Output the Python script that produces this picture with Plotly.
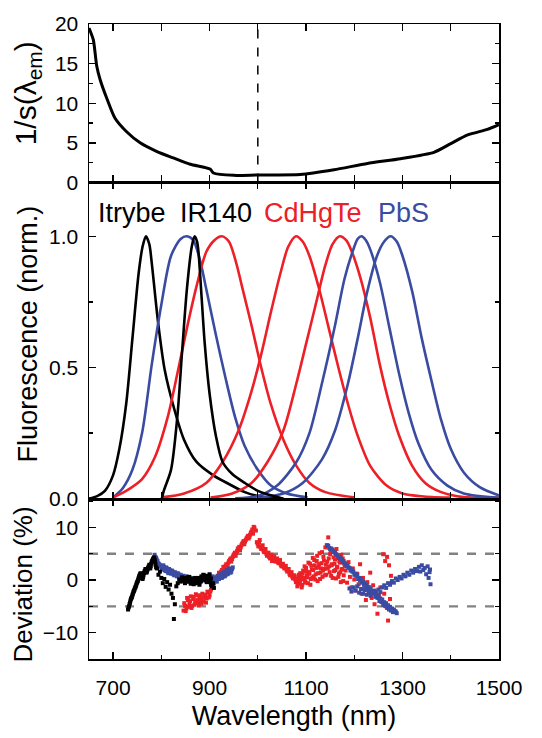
import plotly.graph_objects as go

# ---------------- data ----------------
# top panel: inverse spectral sensitivity
wl_sens = [650, 659, 666, 673, 687, 704, 728, 756, 791, 825, 860, 901, 908, 950, 1000, 1088, 1158, 1227, 1296, 1365, 1400, 1435, 1476, 1500]
inv_sens = [19.5, 18.0, 14.7, 13.0, 10.6, 8.1, 6.4, 5.0, 3.9, 3.1, 2.3, 1.7, 1.2, 0.9, 0.95, 1.0, 1.6, 2.4, 3.0, 3.8, 4.9, 6.0, 6.7, 7.3]

# middle panel: normalized fluorescence spectra
wl_itrybe = [650, 667, 683, 700, 713, 727, 740, 753, 761, 768, 775, 780, 793, 807, 827, 847, 873, 907, 940, 973, 1000, 1053]
fl_itrybe = [0.0, 0.01, 0.03, 0.09, 0.19, 0.36, 0.61, 0.86, 0.96, 1.0, 0.97, 0.9, 0.675, 0.49, 0.34, 0.225, 0.14, 0.09, 0.056, 0.025, 0.01, 0.0]

wl_ir140 = [801, 805, 820, 833, 843, 853, 863, 869, 874, 877, 883, 890, 900, 913, 927, 947, 973, 1000, 1027, 1053]
fl_ir140 = [0.0, 0.03, 0.11, 0.31, 0.56, 0.8, 0.96, 1.0, 0.98, 0.94, 0.78, 0.59, 0.4, 0.24, 0.14, 0.094, 0.06, 0.03, 0.013, 0.0]

wl_pbs1 = [700, 720, 740, 760, 780, 800, 820, 840, 853, 866, 880, 893, 913, 933, 953, 973, 1000, 1027, 1060, 1103]
fl_pbs1 = [0.005, 0.04, 0.11, 0.25, 0.51, 0.74, 0.925, 0.99, 1.0, 0.985, 0.91, 0.8, 0.625, 0.46, 0.31, 0.2, 0.11, 0.05, 0.02, 0.005]

wl_cdhgte1 = [700, 727, 760, 787, 813, 833, 853, 873, 893, 910, 925, 940, 955, 967, 987, 1007, 1027, 1053, 1080, 1107, 1140, 1200]
fl_cdhgte1 = [0.005, 0.03, 0.075, 0.16, 0.31, 0.475, 0.65, 0.81, 0.94, 0.985, 1.0, 0.98, 0.9, 0.81, 0.66, 0.5, 0.36, 0.225, 0.125, 0.06, 0.025, 0.005]

wl_cdhgte2 = [801, 847, 893, 927, 960, 987, 1007, 1027, 1047, 1063, 1079, 1093, 1107, 1127, 1147, 1167, 1187, 1207, 1233, 1267, 1300, 1360, 1400]
fl_cdhgte2 = [0.005, 0.02, 0.06, 0.14, 0.26, 0.41, 0.55, 0.71, 0.86, 0.96, 1.0, 0.98, 0.925, 0.8, 0.65, 0.5, 0.36, 0.24, 0.125, 0.05, 0.02, 0.006, 0.004]

wl_cdhgte3 = [902, 947, 987, 1020, 1053, 1080, 1100, 1120, 1140, 1155, 1170, 1183, 1193, 1213, 1233, 1253, 1273, 1293, 1320, 1347, 1380, 1427, 1500]
fl_cdhgte3 = [0.004, 0.02, 0.06, 0.14, 0.26, 0.44, 0.59, 0.74, 0.89, 0.97, 1.0, 0.985, 0.95, 0.84, 0.69, 0.51, 0.36, 0.24, 0.125, 0.06, 0.025, 0.006, 0.004]

wl_pbs2 = [953, 1000, 1040, 1080, 1107, 1133, 1160, 1180, 1200, 1207, 1215, 1224, 1233, 1253, 1273, 1293, 1313, 1333, 1360, 1393, 1427, 1500]
fl_pbs2 = [0.002, 0.01, 0.05, 0.14, 0.25, 0.44, 0.66, 0.84, 0.96, 0.99, 1.0, 0.985, 0.95, 0.825, 0.65, 0.475, 0.325, 0.21, 0.11, 0.05, 0.02, 0.003]

wl_pbs3 = [1000, 1053, 1093, 1133, 1160, 1187, 1207, 1227, 1247, 1262, 1275, 1288, 1300, 1320, 1340, 1360, 1380, 1400, 1427, 1460, 1500]
fl_pbs3 = [0.003, 0.02, 0.06, 0.15, 0.26, 0.44, 0.61, 0.79, 0.925, 0.98, 1.0, 0.98, 0.925, 0.79, 0.61, 0.45, 0.3, 0.19, 0.1, 0.044, 0.0125]

# bottom panel: deviation (%)
wl_dev_itrybe = [731, 733, 735, 737, 739, 741, 743, 745, 747, 749, 751, 753, 755, 757, 759, 761, 763, 765, 767, 769, 771, 773, 775, 777, 779, 781, 783, 785, 787, 789]
dev_itrybe = [-5.6, -5.0, -4.3, -3.6, -3.2, -2.6, -2.1, -1.6, -1.2, -0.6, -0.2, 0.4, 0.9, 1.3, 0.6, 0.2, 0.9, 1.6, 2.1, 1.4, 1.9, 2.4, 2.9, 2.2, 3.1, 3.6, 4.0, 4.3, 3.5, 2.4]
wl_dev_itrybe_b = [732, 734, 736, 738, 740, 742, 744, 746, 748, 750, 752, 754, 756, 758, 760, 762, 764, 766, 768, 770, 772, 774, 776, 778, 780, 782, 784, 786, 788]
dev_itrybe_b = [-5.2, -4.6, -3.9, -3.4, -2.9, -2.3, -1.9, -1.4, -0.9, -0.4, 0.1, 0.7, 1.1, 0.9, 0.4, 0.5, 1.3, 1.8, 1.7, 1.6, 2.2, 2.6, 2.6, 2.6, 3.4, 3.8, 4.2, 3.9, 2.9]

wl_dev_ir140 = [791, 794, 797, 800, 803, 806, 809, 812, 815, 818, 821, 824, 826, 828, 831, 834, 837, 840, 843, 846, 849, 852, 855, 858, 861, 864, 867, 870, 873, 876, 879, 882, 885, 888, 891, 894, 897, 900, 903, 906, 909]
dev_ir140 = [2.2, 1.0, 1.6, 0.4, -0.6, 0.2, -1.3, -0.4, -1.8, -0.9, -2.6, -3.4, -7.4, -4.6, -1.2, -0.6, 0.1, -0.3, 0.5, 0.2, -0.4, 0.3, -0.2, 0.6, -0.5, 0.1, -0.8, 0.4, -0.3, 0.2, -0.9, -0.2, 0.5, 0.9, 0.2, -0.4, 0.6, 1.1, 0.3, -0.7, -1.5]
wl_dev_ir140_b = [843, 845, 847, 849, 851, 853, 855, 857, 859, 861, 863, 865, 867, 869, 871, 873, 875, 877, 879, 881, 883, 885, 887, 889, 891, 893, 895, 897, 899, 901, 903, 905, 907]
dev_ir140_b = [0.1, -0.2, 0.4, -0.6, 0.0, -0.3, 0.5, -0.1, 0.2, -0.7, -0.2, 0.3, -0.4, 0.0, -0.6, 0.1, -0.2, 0.4, -0.5, 0.2, 0.7, 0.4, 1.0, 0.5, 0.0, 0.8, 0.3, -0.2, 0.4, -0.4, -0.9, -1.2, -0.6]

wl_dev_pbs1 = [786, 789, 792, 795, 798, 801, 804, 807, 810, 813, 816, 819, 822, 825, 828, 831, 834, 837, 840, 843, 846, 849, 852, 855, 858, 861, 864, 867, 870, 873, 876, 879, 882, 885, 888, 891, 894, 897, 900, 903, 906, 909, 912, 915, 918, 921, 924, 927, 930, 933, 936, 939, 942, 945, 948]
dev_pbs1 = [4.8, 4.2, 3.6, 3.0, 2.7, 2.3, 2.8, 1.9, 2.4, 1.6, 2.1, 1.4, 1.8, 1.1, 1.5, 0.9, 1.3, 0.6, 1.0, 0.4, 0.8, 0.2, 0.7, -0.1, 0.4, 0.0, -0.4, 0.3, -0.2, 0.1, -0.5, 0.2, -0.3, 0.4, 0.0, 0.6, -0.2, 0.5, 0.9, 0.3, 0.7, 0.1, 0.5, -0.3, 0.8, 0.4, 1.2, 0.6, 1.5, 0.9, 1.9, 1.3, 2.2, 1.6, 2.4]
wl_dev_pbs1_b = [787.5, 790.5, 793.5, 796.5, 799.5, 802.5, 805.5, 808.5, 811.5, 814.5, 817.5, 820.5, 823.5, 826.5, 829.5, 832.5, 835.5, 838.5, 841.5, 844.5, 847.5, 850.5, 853.5, 856.5, 859.5, 862.5, 865.5, 868.5, 871.5, 874.5, 877.5, 880.5, 883.5, 886.5, 889.5, 892.5, 895.5, 898.5, 901.5, 904.5, 907.5, 910.5, 913.5, 916.5, 919.5, 922.5, 925.5, 928.5, 931.5, 934.5, 937.5, 940.5, 943.5, 946.5]
dev_pbs1_b = [4.4, 3.9, 3.2, 2.9, 2.5, 2.0, 2.5, 1.7, 2.2, 1.3, 1.9, 1.2, 1.6, 0.9, 1.2, 0.7, 1.1, 0.4, 0.8, 0.3, 0.5, 0.1, 0.6, -0.3, 0.2, -0.2, 0.1, -0.4, 0.3, -0.6, 0.0, -0.2, 0.2, -0.1, 0.4, 0.1, 0.3, 0.7, 0.1, 0.5, -0.1, 0.3, 0.0, 0.6, 0.2, 1.0, 0.4, 1.3, 0.7, 1.7, 1.1, 2.0, 1.4, 2.1]

wl_dev_cdhgte1 = [846, 849, 852, 855, 858, 861, 864, 867, 870, 873, 876, 879, 882, 885, 888, 891, 894, 897, 900, 903, 906, 909, 912, 915, 918, 921, 924, 927, 930, 933, 936, 939, 942, 945, 948, 951, 954, 957, 960, 963, 966, 969, 972, 975, 978, 981, 984, 987, 990, 993, 996]
dev_cdhgte1 = [-5.8, -4.9, -5.4, -3.8, -4.6, -3.1, -4.9, -3.6, -4.2, -2.9, -4.4, -3.3, -3.9, -2.6, -4.1, -3.0, -3.5, -2.4, -2.9, -1.8, -1.2, -0.6, -0.1, 0.5, 0.3, 1.1, 1.6, 1.3, 2.2, 2.7, 2.4, 3.3, 3.8, 3.5, 4.4, 4.9, 4.6, 5.5, 5.9, 5.7, 6.6, 7.1, 6.8, 7.6, 8.1, 7.9, 8.6, 9.2, 8.8, 9.9, 9.4]
wl_dev_cdhgte1_b = [847.5, 850.5, 853.5, 856.5, 859.5, 862.5, 865.5, 868.5, 871.5, 874.5, 877.5, 880.5, 883.5, 886.5, 889.5, 892.5, 895.5, 898.5, 901.5, 904.5, 907.5, 910.5, 913.5, 916.5, 919.5, 922.5, 925.5, 928.5, 931.5, 934.5, 937.5, 940.5, 943.5, 946.5, 949.5, 952.5, 955.5, 958.5, 961.5, 964.5, 967.5, 970.5, 973.5, 976.5, 979.5, 982.5, 985.5, 988.5, 991.5]
dev_cdhgte1_b = [-4.4, -5.9, -3.4, -5.1, -4.0, -5.3, -3.2, -4.7, -2.7, -3.8, -4.8, -2.9, -4.5, -3.4, -2.8, -4.3, -2.2, -3.3, -2.2, -1.5, -0.9, -0.3, 0.2, 0.8, 1.4, 0.9, 1.9, 2.5, 2.0, 3.0, 2.9, 3.6, 4.1, 4.0, 4.7, 5.2, 5.1, 6.0, 6.3, 6.2, 6.9, 7.4, 7.3, 7.9, 8.4, 8.2, 9.0, 9.6, 10.1]

wl_dev_cdhgte2 = [998, 1001, 1004, 1007, 1010, 1013, 1016, 1019, 1022, 1025, 1028, 1031, 1034, 1037, 1040, 1043, 1046, 1049, 1052, 1055, 1058, 1061, 1064, 1067, 1070, 1073, 1076, 1079, 1082, 1084, 1086, 1088, 1090, 1092, 1094, 1096, 1098, 1100, 1102, 1104, 1106, 1108, 1110, 1112, 1114, 1116, 1118, 1120, 1122, 1124, 1126, 1128, 1130, 1132, 1134, 1136, 1138, 1140, 1142, 1144, 1146, 1148, 1150, 1152, 1154, 1156, 1158, 1160, 1162, 1164, 1166, 1168, 1170, 1172, 1174, 1176, 1178, 1180]
dev_cdhgte2 = [7.2, 6.4, 7.6, 5.9, 6.6, 5.3, 5.9, 4.6, 5.2, 4.1, 4.8, 3.9, 4.5, 3.5, 4.1, 3.2, 3.8, 2.6, 3.1, 2.2, 2.7, 1.6, 2.1, 0.9, 1.5, 0.3, 0.8, -0.4, -1.2, 0.6, -0.6, 1.3, 0.1, -0.9, 1.8, 0.4, -0.3, 2.3, 0.9, -0.6, 1.5, 3.1, 0.2, 2.0, 4.2, 0.7, 2.8, 1.1, 3.6, -0.2, 2.4, 5.1, 1.4, 3.2, 0.6, 4.4, 2.1, 6.2, 1.0, 3.5, 8.1, 2.6, 4.9, 0.8, 3.0, 5.6, 1.7, 3.9, 0.3, 2.5, 4.6, 1.2, 3.3, -0.4, 2.0, 4.1, 0.9, 2.7]
wl_dev_cdhgte2_b = [999.5, 1002.5, 1005.5, 1008.5, 1011.5, 1014.5, 1017.5, 1020.5, 1023.5, 1026.5, 1029.5, 1032.5, 1035.5, 1038.5, 1041.5, 1044.5, 1047.5, 1050.5, 1053.5, 1056.5, 1059.5, 1062.5, 1065.5, 1068.5, 1071.5, 1074.5, 1077.5, 1081, 1083, 1085, 1087, 1089, 1091, 1093, 1095, 1097, 1099, 1101, 1103, 1105, 1107, 1109, 1111, 1113, 1115, 1117, 1119, 1121, 1123, 1125, 1127, 1129, 1131, 1133, 1135, 1137, 1139, 1141, 1143, 1145, 1147, 1149, 1151, 1153, 1155, 1157, 1159, 1161, 1163, 1165, 1167, 1169, 1171, 1173, 1175, 1177, 1179]
dev_cdhgte2_b = [6.9, 7.1, 6.2, 6.3, 5.6, 5.5, 5.0, 4.9, 4.4, 4.6, 3.6, 4.2, 3.8, 3.9, 3.4, 3.5, 2.9, 2.8, 2.5, 2.4, 1.9, 1.9, 1.2, 1.2, 0.6, 0.9, 0.1,
                 0.2, -0.8, 1.0, -0.2, 0.7, -1.4, 1.2, 0.3, 2.6, -0.5, 1.6, 0.5, 3.3, 1.2, -0.9, 2.7, 0.4, 1.9, 3.8, 0.1, 2.3, 4.6, 1.3, 3.0, 0.2, 2.2, 5.3, 1.8, 3.7, 0.9, 2.9, 6.6, 2.2, 4.1, 1.5, 5.4, 2.8, 0.4, 4.3, 3.1, 1.9, 5.9, 2.4, 0.6, 3.6, 1.5, 4.8, 2.1, -0.2, 3.2]

wl_dev_cdhgte3 = [1182, 1185, 1188, 1191, 1194, 1197, 1200, 1203, 1206, 1209, 1212, 1215, 1218, 1221, 1224, 1227, 1230, 1233, 1236, 1239, 1242, 1245, 1248, 1251, 1254, 1257, 1260, 1262, 1264, 1266, 1268, 1270, 1272, 1274, 1276]
dev_cdhgte3 = [1.8, -0.5, 3.4, 0.6, -1.4, 2.2, 0.1, -2.0, 1.2, -0.8, 3.0, -2.6, 0.4, -1.6, -3.8, -0.4, -2.4, 1.4, -3.4, -1.0, -4.6, -2.2, -6.4, -3.0, -1.4, -4.2, 4.9, -2.6, 3.6, -5.0, 4.4, -7.7, 2.8, -3.6, 0.8]

wl_dev_pbs2 = [1144, 1148, 1152, 1156, 1160, 1164, 1168, 1172, 1176, 1180, 1184, 1188, 1192, 1196, 1200, 1204, 1208, 1212, 1216, 1220, 1224, 1228, 1232, 1236, 1240, 1244, 1248, 1252, 1256, 1260, 1264, 1268, 1272, 1276, 1280, 1284, 1288]
dev_pbs2 = [6.6, 6.1, 6.0, 5.4, 5.2, 4.8, 4.2, 4.1, 3.4, 3.2, 2.6, 2.4, 1.8, 1.6, 1.0, 0.8, 0.2, -0.1, -0.5, -0.9, -1.1, -1.7, -1.9, -2.5, -2.6, -3.2, -3.4, -4.0, -4.1, -4.7, -4.9, -5.3, -5.6, -5.8, -6.1, -5.9, -6.3]
wl_dev_pbs2_b = [1146, 1150, 1154, 1158, 1162, 1166, 1170, 1174, 1178, 1182, 1186, 1190, 1194, 1198, 1202, 1206, 1210, 1214, 1218, 1222, 1226, 1230, 1234, 1238, 1242, 1246, 1250, 1254, 1258, 1262, 1266, 1270, 1274, 1278, 1282, 1286]
dev_pbs2_b = [6.5, 5.9, 5.8, 5.3, 4.9, 4.6, 4.3, 3.8, 3.6, 3.0, 2.8, 2.3, 2.0, 1.6, 1.2, 1.0, 0.4, 0.2, -0.3, -0.6, -1.0, -1.3, -1.6, -2.1, -2.3, -2.8, -3.0, -3.5, -3.7, -4.2, -4.4, -4.8, -5.1, -5.4, -5.6, -6.0]

wl_dev_pbs3 = [1190, 1194, 1198, 1202, 1206, 1210, 1214, 1218, 1222, 1226, 1230, 1234, 1238, 1242, 1246, 1250, 1254, 1258, 1262, 1266, 1270, 1274, 1278, 1282, 1286, 1290, 1294, 1298, 1302, 1306, 1310, 1314, 1318, 1322, 1326, 1330, 1334, 1337, 1340, 1343, 1346, 1349, 1352, 1354, 1356, 1357, 1358]
dev_pbs3 = [-1.6, -2.2, -1.4, -2.0, -1.2, -2.4, -1.7, -2.6, -1.9, -2.8, -2.2, -3.0, -2.4, -2.0, -2.7, -1.8, -2.3, -1.4, -1.0, -1.5, -0.6, -0.9, -0.2, -0.5, 0.3, 0.0, 0.6, 0.3, 1.0, 0.7, 1.4, 1.0, 1.8, 1.4, 2.1, 1.7, 2.5, 1.6, 2.8, 1.9, 2.3, 1.1, 2.6, 0.4, 1.5, 2.0, -0.8]

labels = ["Itrybe", "IR140", "CdHgTe", "PbS"]
label_x = [665, 835, 1008, 1246]
tick_x_labels = [700, 900, 1100, 1300, 1500]

# ---------------- styling ----------------
BLACK = "black"
RED = "rgb(236,32,38)"
BLUE = "rgb(58,76,162)"
FONT = "Liberation Sans, Arial, sans-serif"

fig = go.Figure()

# top panel
fig.add_trace(go.Scatter(x=wl_sens, y=inv_sens, mode="lines", line=dict(color=BLACK, width=3, shape="spline", smoothing=0.6),
                         xaxis="x", yaxis="y", showlegend=False))

# middle panel spectra
spectra = [
    (wl_itrybe, fl_itrybe, BLACK),
    (wl_pbs1, fl_pbs1, BLUE),
    (wl_cdhgte1, fl_cdhgte1, RED),
    (wl_cdhgte2, fl_cdhgte2, RED),
    (wl_cdhgte3, fl_cdhgte3, RED),
    (wl_pbs2, fl_pbs2, BLUE),
    (wl_pbs3, fl_pbs3, BLUE),
    (wl_ir140, fl_ir140, BLACK),
]
for xs, ys, c in spectra:
    fig.add_trace(go.Scatter(x=xs, y=ys, mode="lines", line=dict(color=c, width=2.6, shape="spline", smoothing=0.8),
                             xaxis="x2", yaxis="y2", showlegend=False))

# bottom panel: dashed reference lines
for yv in (5, -5):
    fig.add_trace(go.Scatter(x=[650, 1500], y=[yv, yv], mode="lines",
                             line=dict(color="rgb(130,130,130)", width=2.4, dash="dash"),
                             xaxis="x3", yaxis="y3", showlegend=False))

devs = [
    (wl_dev_cdhgte1, dev_cdhgte1, RED),
    (wl_dev_cdhgte1_b, dev_cdhgte1_b, RED),
    (wl_dev_cdhgte2, dev_cdhgte2, RED),
    (wl_dev_cdhgte2_b, dev_cdhgte2_b, RED),
    (wl_dev_cdhgte3, dev_cdhgte3, RED),
    (wl_dev_pbs1, dev_pbs1, BLUE),
    (wl_dev_pbs1_b, dev_pbs1_b, BLUE),
    (wl_dev_pbs2, dev_pbs2, BLUE),
    (wl_dev_pbs2_b, dev_pbs2_b, BLUE),
    (wl_dev_pbs3, dev_pbs3, BLUE),
    (wl_dev_itrybe, dev_itrybe, BLACK),
    (wl_dev_itrybe_b, dev_itrybe_b, BLACK),
    (wl_dev_ir140, dev_ir140, BLACK),
    (wl_dev_ir140_b, dev_ir140_b, BLACK),
]
for xs, ys, c in devs:
    fig.add_trace(go.Scatter(x=xs, y=ys, mode="markers", marker=dict(color=c, size=4, symbol="square", line=dict(width=0)),
                             xaxis="x3", yaxis="y3", showlegend=False))

# vertical dashed line at 1000 nm in top panel
fig.add_shape(type="line", xref="x", yref="y", x0=1000, x1=1000, y0=0, y1=20,
              line=dict(color=BLACK, width=1.5, dash="dash"))

TICKFONT = dict(family=FONT, size=21, color="black")
ax_common = dict(range=[650, 1500], showline=True, linecolor="black", linewidth=1.5, mirror="ticks",
                 ticks="inside", ticklen=7, tickwidth=1.3, tickcolor="black", showgrid=False, zeroline=False,
                 tickfont=TICKFONT)

y_common = dict(showline=True, linecolor="black", linewidth=1.5, mirror="ticks", ticks="inside", ticklen=7,
                tickwidth=1.3, tickcolor="black", showgrid=False, zeroline=False,
                tickfont=TICKFONT, ticklabelstandoff=5)

MINOR = dict(ticks="inside", ticklen=4, tickwidth=1.3, tickcolor="black")

fig.update_layout(
    width=542, height=738,
    margin=dict(l=89, r=43, t=21, b=72),
    plot_bgcolor="white", paper_bgcolor="white",
    font=dict(family=FONT, color="black"),
    xaxis=dict(**ax_common, domain=[0, 1], anchor="y", dtick=100, tick0=700, showticklabels=False),
    xaxis2=dict(**ax_common, domain=[0, 1], anchor="y2", dtick=100, tick0=700, showticklabels=False),
    xaxis3=dict(**ax_common, domain=[0, 1], anchor="y3", tickvals=tick_x_labels, ticklabelstandoff=9,
                minor=dict(**MINOR, dtick=100, tick0=700),
                title=dict(text="Wavelength (nm)", font=dict(family=FONT, size=27), standoff=8)),
    yaxis=dict(**y_common, domain=[0.7504, 1.0], anchor="x", range=[0, 20], dtick=5,
               minor=dict(**MINOR, dtick=2.5)),
    yaxis2=dict(**y_common, domain=[0.2512, 0.7504], anchor="x2", range=[-0.003, 1.205], dtick=0.5,
                tickformat=".1f", minor=dict(**MINOR, dtick=0.25)),
    yaxis3=dict(**y_common, domain=[0, 0.2512], anchor="x3", range=[-15, 15.3], tickvals=[-10, 0, 10],
                minor=dict(**MINOR, dtick=5, tick0=0)),
)

# y-axis titles as rotated annotations
fig.add_annotation(text="1/s(λ<sub>em</sub>)", xref="paper", yref="paper", x=-0.15, y=0.89,
                   textangle=-90, showarrow=False, font=dict(family=FONT, size=30), xanchor="center", yanchor="middle")
fig.add_annotation(text="Fluorescence (norm.)", xref="paper", yref="paper", x=-0.15, y=0.512,
                   textangle=-90, showarrow=False, font=dict(family=FONT, size=27), xanchor="center", yanchor="middle")
fig.add_annotation(text="Deviation (%)", xref="paper", yref="paper", x=-0.16, y=0.118,
                   textangle=-90, showarrow=False, font=dict(family=FONT, size=26), xanchor="center", yanchor="middle")

label_colors = [BLACK, BLACK, RED, BLUE]
for t, xv, c in zip(labels, label_x, label_colors):
    fig.add_annotation(text=t, x=xv, y=1.09, xref="x2", yref="y2", showarrow=False, xanchor="left",
                       yanchor="middle", font=dict(family=FONT, size=27, color=c))

# remove the default 8px page margin so the figure sits at the window's top-left corner
fig.write_html("out.html", config={"displayModeBar": False, "staticPlot": True},
               post_script="document.body.style.margin='0';")
